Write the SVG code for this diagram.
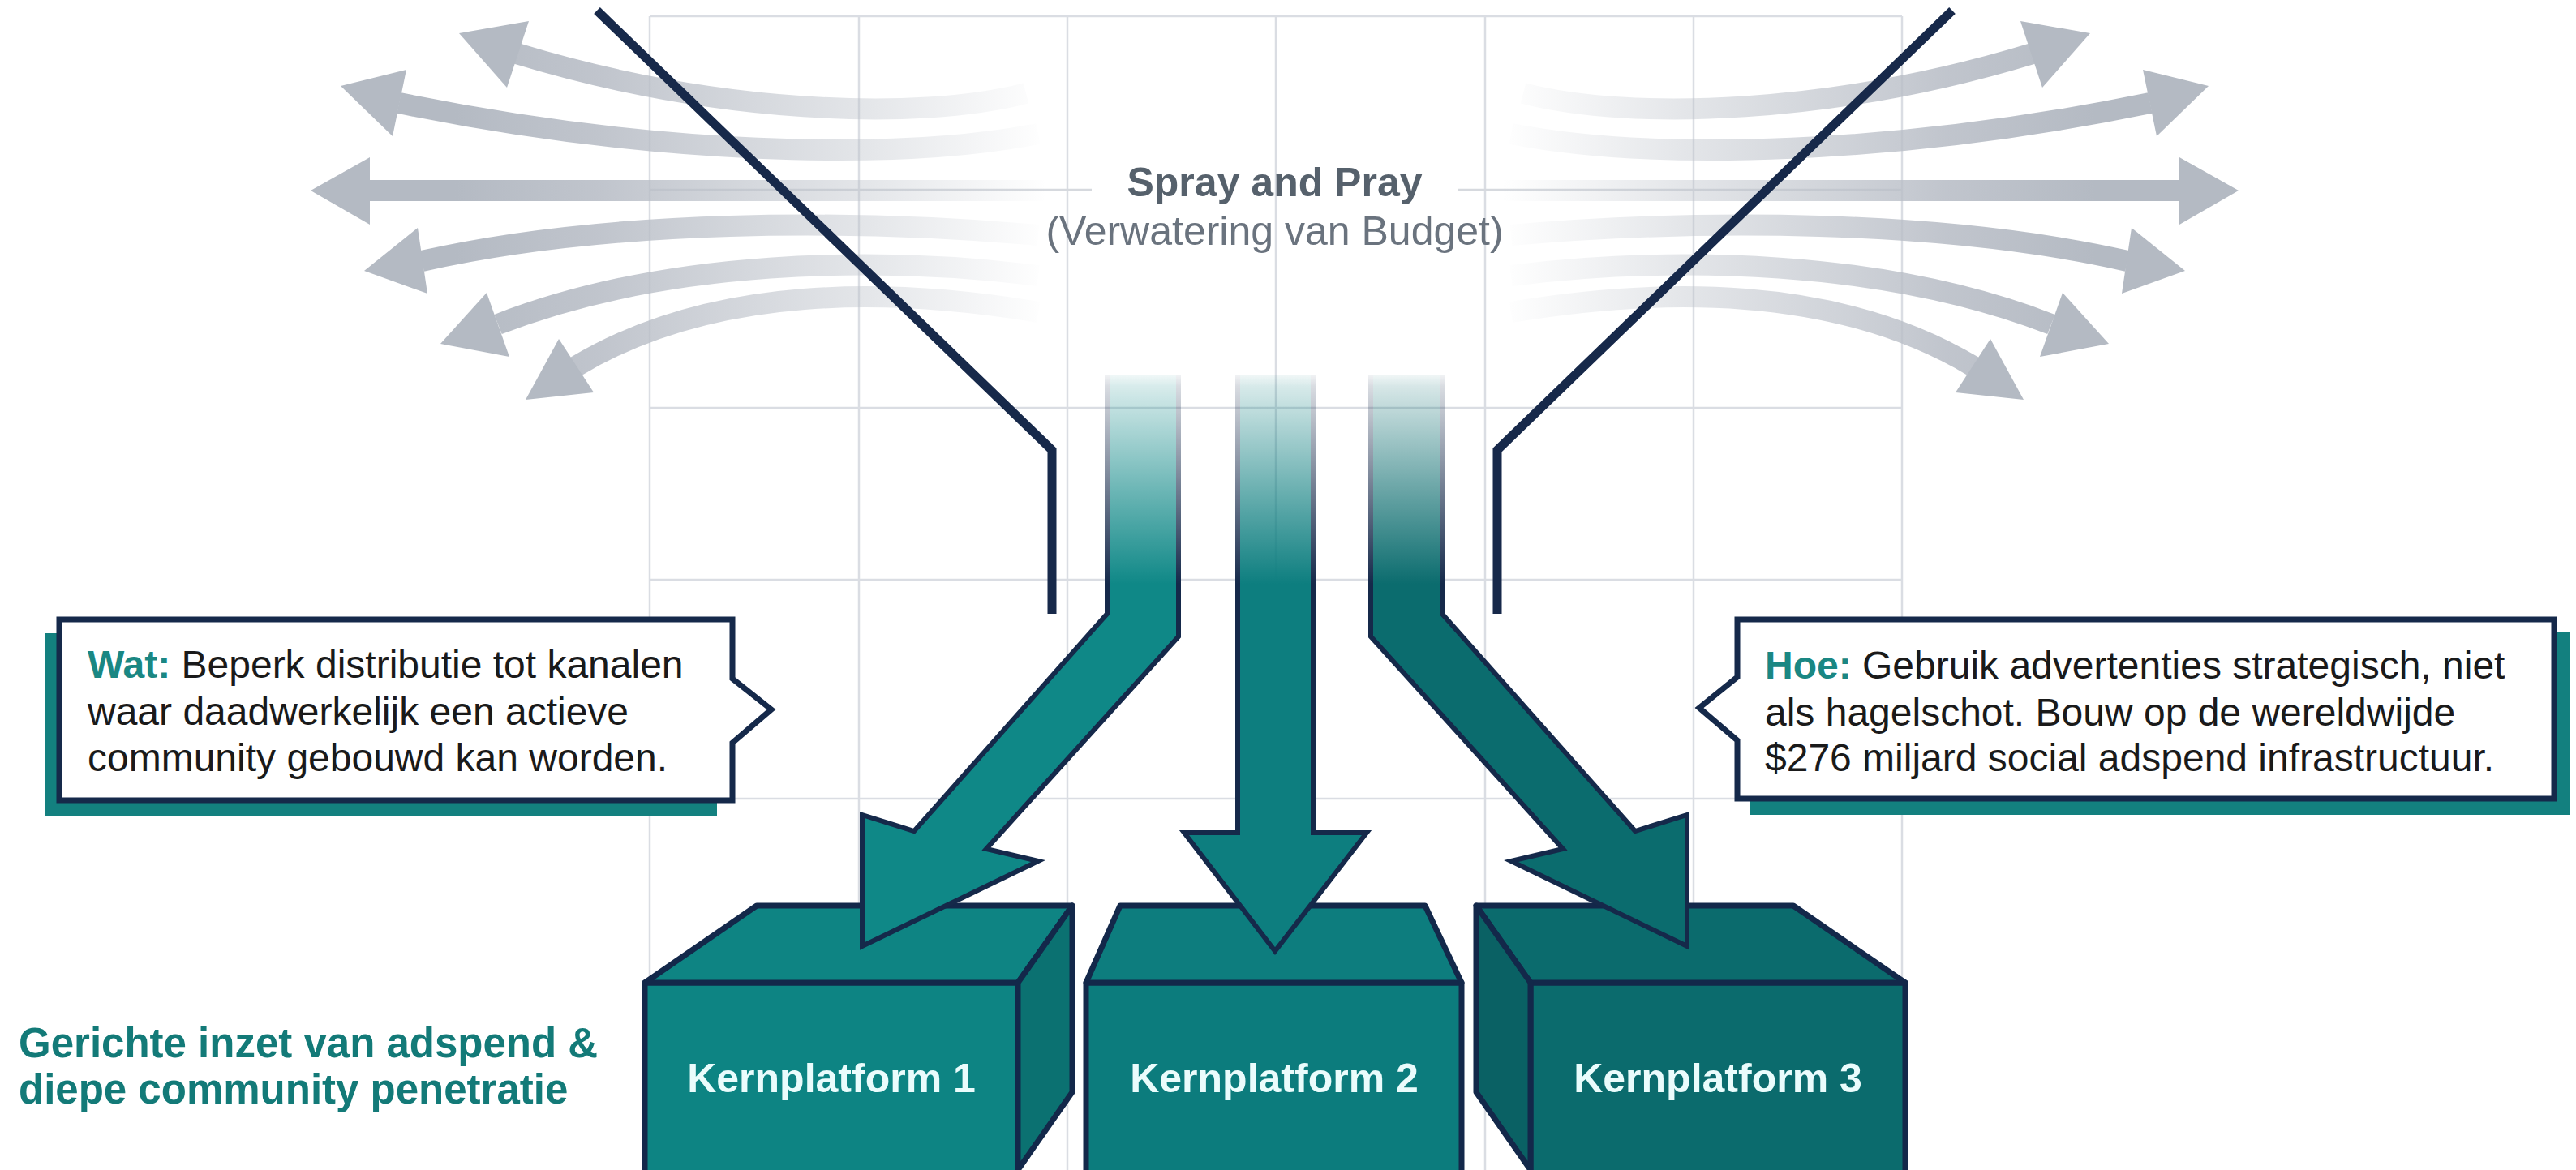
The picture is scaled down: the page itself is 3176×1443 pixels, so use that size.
<svg xmlns="http://www.w3.org/2000/svg" width="3176" height="1443" viewBox="0 0 3176 1443">
  <defs>
    <style>
      .grid { stroke: #dadde3; stroke-width: 2.5; fill: none; }
      .navy { stroke: #17294a; stroke-width: 11; fill: none; stroke-linejoin: miter; }
      .gshaft { fill: none; stroke: url(#greyFade); stroke-width: 26; }
      .ghead { fill: #b4bac3; }
      .tout { fill: none; stroke: #15294a; stroke-width: 6; stroke-linejoin: miter; }
      .boxline { stroke: #13284a; stroke-width: 7; stroke-linejoin: round; }
      .lbl { font-family: "Liberation Sans", Arial, sans-serif; font-weight: bold; font-size: 50px; fill: #eafcfc; text-anchor: middle; }
      .call { font-family: "Liberation Sans", Arial, sans-serif; font-size: 48px; fill: #1a1a1a; }
      .key { font-weight: bold; fill: #1a8783; }
      .cbox { fill: #ffffff; stroke: #15294a; stroke-width: 7; stroke-linejoin: miter; }
      .shadow { fill: #13807f; }
    </style>
    <linearGradient id="greyFade" gradientUnits="userSpaceOnUse" x1="1290" y1="0" x2="560" y2="0">
      <stop offset="0" stop-color="#bcc1c9" stop-opacity="0"/>
      <stop offset="0.3" stop-color="#bcc1c9" stop-opacity="0.4"/>
      <stop offset="0.75" stop-color="#b8bdc6" stop-opacity="0.88"/>
      <stop offset="1" stop-color="#b4bac3" stop-opacity="1"/>
    </linearGradient>
    <linearGradient id="fadeV" gradientUnits="userSpaceOnUse" x1="0" y1="455" x2="0" y2="720">
      <stop offset="0" stop-color="#000"/>
      <stop offset="0.08" stop-color="#2a2a2a"/>
      <stop offset="0.55" stop-color="#999"/>
      <stop offset="1" stop-color="#fff"/>
    </linearGradient>
    <mask id="fadeMask" maskUnits="userSpaceOnUse" x="0" y="0" width="3176" height="1443">
      <rect x="0" y="0" width="3176" height="1443" fill="url(#fadeV)"/>
    </mask>
    <g id="greyArrows">
      <path class="gshaft" d="M1265,115 C1130,150 880,140 637,66"/>
      <polygon class="ghead" points="566,41 652,26 625,108"/>
      <path class="gshaft" d="M1280,165 C1100,200 800,190 492,127"/>
      <polygon class="ghead" points="420,106 501,86 484,168"/>
      <path class="gshaft" d="M1345,235 L455,235"/>
      <polygon class="ghead" points="383,235 456,194 456,277"/>
      <path class="gshaft" d="M1280,290 C1050,270 750,270 520,322"/>
      <polygon class="ghead" points="449,334 515,281 527,362"/>
      <path class="gshaft" d="M1280,340 C1080,315 820,320 614,400"/>
      <polygon class="ghead" points="543,424 600,361 628,440"/>
      <path class="gshaft" d="M1280,385 C1100,355 880,350 710,452"/>
      <polygon class="ghead" points="648,493 689,418 732,484"/>
    </g>
  </defs>

  <rect x="0" y="0" width="3176" height="1443" fill="#ffffff"/>

  <g id="grid">
    <path class="grid" d="M801,20 V1443 M1059,20 V1443 M1316,20 V1443 M1573,20 V1443 M1831,20 V1443 M2088,20 V1443 M2345,20 V1443"/>
    <path class="grid" d="M801,20 H2345 M801,503 H2345 M801,715 H2345 M801,985 H2345"/>
    <path d="M801,234 H1346 M1797,234 H2345" stroke="#d6d9de" stroke-width="2.5" fill="none"/>
  </g>

  <g id="spray-arrows">
    <use href="#greyArrows"/>
    <use href="#greyArrows" transform="matrix(-1 0 0 1 3143 0)"/>
  </g>

  <g id="funnel">
    <polyline class="navy" points="736,13 1297,555 1297,757"/>
    <polyline class="navy" points="2407,13 1846,555 1846,757"/>
  </g>

  <g id="title">
    <text x="1571.5" y="242" text-anchor="middle" font-family="Liberation Sans, Arial, sans-serif" font-weight="bold" font-size="50" fill="#56616c">Spray and Pray</text>
    <text x="1571.5" y="302" text-anchor="middle" font-family="Liberation Sans, Arial, sans-serif" font-size="50" fill="#6a737e">(Verwatering van Budget)</text>
  </g>

  <g id="platform-1">
    <rect x="795" y="1212" width="460" height="240" fill="#0d8483" class="boxline"/>
    <polygon points="795,1212 933,1117 1322,1117 1255,1212" fill="#0e8483" class="boxline"/>
    <polygon points="1255,1212 1322,1117 1322,1347 1255,1443" fill="#0b7171" class="boxline"/>
    <text class="lbl" x="1025" y="1347">Kernplatform 1</text>
  </g>
  <g id="platform-2">
    <rect x="1339" y="1212" width="463" height="240" fill="#0c7c7d" class="boxline"/>
    <polygon points="1339,1212 1381,1117 1757,1117 1802,1212" fill="#0d7d7e" class="boxline"/>
    <text class="lbl" x="1571" y="1347">Kernplatform 2</text>
  </g>
  <g id="platform-3">
    <rect x="1887" y="1212" width="462" height="240" fill="#0b6b6d" class="boxline"/>
    <polygon points="1887,1212 1820,1117 2211,1117 2349,1212" fill="#0b6b6d" class="boxline"/>
    <polygon points="1820,1117 1887,1212 1887,1443 1820,1347" fill="#0a6164" class="boxline"/>
    <text class="lbl" x="2118" y="1347">Kernplatform 3</text>
  </g>

  <g id="connectors" mask="url(#fadeMask)">
    <g id="arrow-left">
      <polygon points="1365,462 1365,757 1127,1025 1063,1005 1063,1167 1280,1062 1216,1047 1453,785 1453,462" fill="#0f8887"/>
      <polyline class="tout" points="1365,462 1365,757 1127,1025 1063,1005 1063,1167 1280,1062 1216,1047 1453,785 1453,462"/>
    </g>
    <g id="arrow-center">
      <polygon points="1526,462 1526,1027 1460,1027 1572,1173 1685,1027 1619,1027 1619,462" fill="#0d7e7f"/>
      <polyline class="tout" points="1526,462 1526,1027 1460,1027 1572,1173 1685,1027 1619,1027 1619,462"/>
    </g>
    <g id="arrow-right">
      <polygon points="1778,462 1778,757 2016,1025 2080,1005 2080,1167 1863,1062 1927,1047 1690,785 1690,462" fill="#0b6c6e"/>
      <polyline class="tout" points="1778,462 1778,757 2016,1025 2080,1005 2080,1167 1863,1062 1927,1047 1690,785 1690,462"/>
    </g>
  </g>

  <g id="callout-wat">
    <rect class="shadow" x="56" y="781" width="828" height="225"/>
    <path class="cbox" d="M73,764 H903 V837 L951,875 L903,916 V987 H73 Z"/>
    <text class="call" x="108" y="836"><tspan class="key">Wat:</tspan> Beperk distributie tot kanalen</text>
    <text class="call" x="108" y="894">waar daadwerkelijk een actieve</text>
    <text class="call" x="108" y="951">community gebouwd kan worden.</text>
  </g>

  <g id="callout-hoe">
    <rect class="shadow" x="2158" y="780" width="1011" height="225"/>
    <path class="cbox" d="M2142,764 H3149 V985 H2142 V913 L2095,873 L2142,835 Z"/>
    <text class="call" x="2176" y="837"><tspan class="key">Hoe:</tspan> Gebruik advertenties strategisch, niet</text>
    <text class="call" x="2176" y="895">als hagelschot. Bouw op de wereldwijde</text>
    <text class="call" x="2176" y="951">$276 miljard social adspend infrastructuur.</text>
  </g>

  <g id="focus-label" font-family="Liberation Sans, Arial, sans-serif" font-weight="bold" font-size="51" fill="#137a78">
    <text x="23" y="1304">Gerichte inzet van adspend &amp;</text>
    <text x="23" y="1361">diepe community penetratie</text>
  </g>
</svg>
